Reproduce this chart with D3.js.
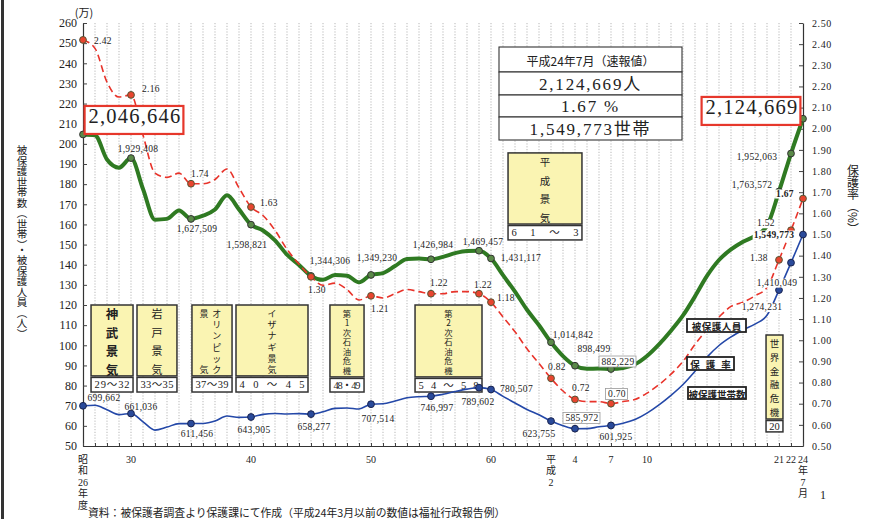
<!DOCTYPE html>
<html>
<head>
<meta charset="utf-8">
<script src="https://cdn.jsdelivr.net/npm/d3@7"></script>
<style>
  html, body { margin: 0; padding: 0; background: #fff; }
  svg { display: block; }
  text { font-family: "Liberation Serif", "DejaVu Serif", "Noto Sans CJK JP", serif; fill: #222; }
  .jp { font-family: "Noto Sans CJK JP", "Liberation Serif", serif; }
</style>
</head>
<body>
<svg id="chart" width="875" height="519"></svg>
<script>
// Periods: fiscal years Showa 26 (1951) .. Heisei 22 (2010), then July 2012 (preliminary)
const periods = [...d3.range(1951, 2011).map(String), "2012-07"];

// 被保護人員 (persons, monthly average)
const persons = [
  2046646, 2042550, 1922060, 1881687, 1929408, 1775971, 1623744, 1627571, 1669180, 1627509,
  1643445, 1674001, 1744639, 1674661, 1598821, 1570054, 1520733, 1449970, 1398725, 1344306,
  1325218, 1349052, 1345549, 1312339, 1349230, 1358316, 1393128, 1428261, 1430488, 1426984,
  1439226, 1457383, 1468245, 1469457, 1431117, 1348163, 1266126, 1176258, 1099520, 1014842,
  946374, 898499, 883112, 884912, 882229, 887450, 905589, 946994, 1004472, 1072241,
  1148088, 1242723, 1344327, 1423388, 1475838, 1513892, 1543321, 1592620, 1763572, 1952063,
  2124669
];

// 被保護世帯数 (households, monthly average)
const households = [
  699662, 702450, 680000, 656000, 661036, 620000, 579037, 594000, 611000, 611456,
  612000, 624000, 649000, 641869, 643905, 657193, 661647, 659096, 660509, 658277,
  669662, 687000, 689000, 684000, 707514, 709613, 723587, 739244, 744841, 746997,
  756726, 770388, 782265, 789602, 780507, 746355, 713825, 681018, 654915, 623755,
  600697, 585972, 586106, 595407, 601925, 613106, 631488, 663060, 704055, 751303,
  805169, 870931, 941270, 998887, 1041508, 1075820, 1105275, 1148766, 1274231, 1410049,
  1549773
];

// 保護率 (%)
const rates = [
  2.42, 2.38, 2.22, 2.15, 2.16, 1.97, 1.79, 1.77, 1.79, 1.74,
  1.74, 1.76, 1.81, 1.72, 1.63, 1.59, 1.52, 1.43, 1.36, 1.30,
  1.26, 1.27, 1.24, 1.19, 1.21, 1.20, 1.22, 1.24, 1.23, 1.22,
  1.22, 1.23, 1.23, 1.22, 1.18, 1.11, 1.04, 0.96, 0.89, 0.82,
  0.76, 0.72, 0.71, 0.71, 0.70, 0.71, 0.72, 0.75, 0.79, 0.84,
  0.90, 0.98, 1.05, 1.11, 1.16, 1.18, 1.21, 1.25, 1.38, 1.52,
  1.67
];

// x-axis labels (period index -> stacked label lines)
const xTickLabels = [
  { i: 0, lines: ["昭", "和", "26", "年", "度"] },
  { i: 4, lines: ["30"] }, { i: 14, lines: ["40"] }, { i: 24, lines: ["50"] }, { i: 34, lines: ["60"] },
  { i: 39, lines: ["平", "成", "2"] }, { i: 41, lines: ["4"] }, { i: 44, lines: ["7"] }, { i: 47, lines: ["10"] },
  { i: 58, lines: ["21"] }, { i: 59, lines: ["22"] }, { i: 60, lines: ["24", "年", "7", "月"] }
];
const leftTicks = d3.range(50, 261, 10);
const rightTicks = d3.range(0, 21).map(k => 0.5 + k * 0.1);

// Summary of the latest month
const summaryRows = ["平成24年7月（速報値）", "2,124,669人", "1.67 %", "1,549,773世帯"];

// Business-cycle periods (x in period index, y in 万 units on the left axis)
const booms = [
  { cols: ["神武景気"], x0: 0.67, x1: 4.17, top: 120, bottom: 84.8, sub: 76.8, range: "29～32", fs: 12.5, bold: true },
  { cols: ["岩戸景気"], x0: 4.5, x1: 7.83, top: 120, bottom: 84.8, sub: 76.8, range: "33～35", fs: 11 },
  { cols: ["オリンピック", "景気"], colPos: [0.62, 0.3], x0: 9.08, x1: 12.42, top: 120, bottom: 84.8, sub: 76.8, range: "37～39", fs: 9 },
  { cols: ["イザナギ景気"], x0: 12.75, x1: 18.75, top: 120, bottom: 84.8, sub: 76.8, range: "40～45", fs: 9 },
  { cols: ["第1次石油危機"], x0: 20.58, x1: 23.42, top: 120, bottom: 84.3, sub: 76.8, range: "48・49", fs: 8.3 },
  { cols: ["第2次石油危機"], x0: 27.67, x1: 33.25, top: 120, bottom: 84.3, sub: 76.8, range: "54～58", fs: 8.3 },
  { cols: ["平成景気"], x0: 35.42, x1: 41.58, top: 195.5, bottom: 160.2, sub: 152.3, range: "61～3", fs: 10.5 },
  { cols: ["世界金融危機"], x0: 56.92, x1: 58.33, top: 105.1, bottom: 63.4, sub: 57, range: "20", fs: 9.5 }
];

// Value callouts: period index and text offset from the point
const personNotes = [
  { i: 0, dx: 52, dy: -11.5, style: "big" },
  { i: 4, dx: 7, dy: -6.5 }, { i: 9, dx: 6, dy: 13.5 }, { i: 14, dx: -4, dy: 23 },
  { i: 19, dx: 19, dy: -11.5 }, { i: 24, dx: 6, dy: -13.5 }, { i: 29, dx: 2, dy: -11 },
  { i: 33, dx: 4, dy: -5.5 }, { i: 34, dx: 30, dy: 3 }, { i: 39, dx: 22, dy: -4 },
  { i: 41, dx: 19, dy: -14 }, { i: 44, dx: 7, dy: -4.5, style: "boxed" },
  { i: 58, dx: -27, dy: -3, halo: true }, { i: 59, dx: -34, dy: 6, halo: true },
  { i: 60, dx: -51, dy: -4.8, style: "big" }
];
const rateNotes = [
  { i: 0, dx: 11, dy: 4.5, anchor: "start" }, { i: 4, dx: 11, dy: -2.5, anchor: "start" },
  { i: 9, dx: 9, dy: -7 }, { i: 14, dx: 9, dy: -1.5, anchor: "start" },
  { i: 19, dx: 6, dy: 16 }, { i: 24, dx: 9, dy: 16 }, { i: 29, dx: 8, dy: -8 },
  { i: 33, dx: 4, dy: -6 }, { i: 34, dx: 6, dy: -1.5, anchor: "start" },
  { i: 39, dx: 6, dy: -8 }, { i: 41, dx: 6, dy: -8 }, { i: 44, dx: 6, dy: -6.7, style: "boxed" },
  { i: 58, dx: -20, dy: 1.5, halo: true }, { i: 59, dx: -25, dy: -4, halo: true },
  { i: 60, dx: -18, dy: -2, bold: true, halo: true }
];
const householdNotes = [
  { i: 0, dx: 21, dy: -4.3 }, { i: 4, dx: 10, dy: -4 }, { i: 9, dx: 6, dy: 13 },
  { i: 14, dx: 3, dy: 15.5 }, { i: 19, dx: 3, dy: 15.4 }, { i: 24, dx: 7, dy: 17.3 },
  { i: 29, dx: 6, dy: 15.2 }, { i: 33, dx: -1, dy: 17.8 }, { i: 34, dx: 9, dy: 3, anchor: "start" },
  { i: 39, dx: -12, dy: 16.4 }, { i: 41, dx: 7, dy: -7.7, style: "boxed" }, { i: 44, dx: 5, dy: 15 },
  { i: 58, dx: -17, dy: 20, halo: true }, { i: 59, dx: -14, dy: 23, halo: true },
  { i: 60, dx: -29, dy: 3, bold: true, halo: true }
];
const markerIdx = [0, 4, 9, 14, 19, 24, 29, 33, 34, 39, 41, 44, 58, 59, 60];

const legendItems = [
  { text: "被保護人員", x: 687, y: 319, w: 59, h: 13, ls: 0.5 },
  { text: "保護率", x: 687, y: 357, w: 47, h: 13, ls: 6 },
  { text: "被保護世帯数", x: 688, y: 387, w: 58, h: 12, ls: 0 }
];

const COLORS = { persons: "#2f7a22", rate: "#e8332a", households: "#2448a8" };

// ---------------------------------------------------------------
const svg = d3.select("#chart");
const M = { left: 83, right: 803, top: 23, bottom: 446 };
const x = d3.scaleLinear().domain([0, periods.length - 1]).range([M.left, M.right]);
const yL = d3.scaleLinear().domain([50, 260]).range([M.bottom, M.top]);
const yR = d3.scaleLinear().domain([0.5, 2.5]).range([M.bottom, M.top]);
const man = v => v / 10000;
const personsMan = persons.map(man);
const householdsMan = households.map(man);

svg.append("rect").attr("width", 875).attr("height", 519).attr("fill", "#fff");
// page frame on the left
svg.append("rect").attr("x", 1).attr("y", 0).attr("width", 3).attr("height", 519).attr("fill", "#333");

// vertical year grid
svg.append("g").selectAll("line").data(d3.range(1, periods.length - 1)).join("line")
  .attr("x1", d => x(d)).attr("x2", d => x(d))
  .attr("y1", M.top).attr("y2", M.bottom)
  .attr("stroke", "#9a9a9a").attr("stroke-width", 0.7).attr("stroke-dasharray", "1.2,1.6");

// axes
const gL = svg.append("g").attr("transform", `translate(${M.left},0)`)
  .call(d3.axisLeft(yL).tickValues(leftTicks).tickSize(-4).tickSizeOuter(0).tickPadding(6));
gL.selectAll("text").attr("font-size", 12).attr("font-family", "Liberation Serif, serif").attr("fill", "#222");
const gR = svg.append("g").attr("transform", `translate(${M.right},0)`)
  .call(d3.axisRight(yR).tickValues(rightTicks).tickFormat(d3.format(".2f")).tickSize(-4).tickSizeOuter(0).tickPadding(9));
gR.selectAll("text").attr("font-size", 10).attr("font-family", "Liberation Serif, serif").attr("fill", "#333").attr("letter-spacing", 0.6);
const gB = svg.append("g").attr("transform", `translate(0,${M.bottom})`)
  .call(d3.axisBottom(x).tickValues(d3.range(periods.length)).tickFormat("").tickSize(-3).tickSizeOuter(0));
[gL, gR, gB].forEach(g => {
  g.select(".domain").attr("stroke", "#333").attr("stroke-width", 1.2);
  g.selectAll(".tick line").attr("stroke", "#444");
});

// x tick labels: one text per tick, stacked lines as tspans
xTickLabels.forEach(t => {
  const tx = svg.append("text").attr("class", "jp").attr("x", x(t.i)).attr("y", 462.5)
    .attr("text-anchor", "middle").attr("font-size", 10).attr("fill", "#333");
  t.lines.forEach((ln, k) => {
    tx.append("tspan").attr("x", x(t.i)).attr("dy", k === 0 ? 0 : 11.5)
      .style("font-family", /[0-9]/.test(ln) ? "Liberation Serif, serif" : null).text(ln);
  });
});

svg.append("text").attr("x", 84).attr("y", 17).attr("text-anchor", "middle")
  .attr("font-size", 11).attr("class", "jp").text("(万)");

// axis titles (vertical writing)
svg.append("text").attr("class", "jp").attr("x", 22).attr("y", 145)
  .style("writing-mode", "vertical-rl").attr("font-size", 10.5).attr("fill", "#333")
  .text("被保護世帯数（世帯）・被保護人員（人）");
svg.append("text").attr("class", "jp").attr("x", 853).attr("y", 164)
  .style("writing-mode", "vertical-rl").attr("font-size", 12).attr("fill", "#333")
  .text("保護率（%）");

// business cycle boxes
booms.forEach(b => {
  const bx = x(b.x0), bw = x(b.x1) - x(b.x0);
  const ty = yL(b.top), by = yL(b.bottom), sy = yL(b.sub);
  svg.append("rect").attr("x", bx).attr("y", ty).attr("width", bw).attr("height", by - ty)
    .attr("fill", "#faf4b2").attr("stroke", "#333").attr("stroke-width", 1.5);
  svg.append("rect").attr("x", bx).attr("y", by + 1.5).attr("width", bw).attr("height", sy - by - 1.5)
    .attr("fill", "#fff").attr("stroke", "#333").attr("stroke-width", 1.5);
  b.cols.forEach((col, ci) => {
    const chars = Array.from(col);
    const cx = bx + bw * (b.colPos ? b.colPos[ci] : 0.5);
    const y0 = ty + 8, y1 = by - 7;
    const step = chars.length > 1 ? (y1 - y0) / (chars.length - 1) : 0;
    // one text per column, characters stacked top to bottom
    const ct = svg.append("text").attr("class", "jp").attr("x", cx).attr("y", y0)
      .attr("dominant-baseline", "central").attr("text-anchor", "middle")
      .attr("font-size", b.fs).attr("font-weight", b.bold ? 700 : 400).attr("fill", "#333");
    chars.forEach((ch, k) => {
      ct.append("tspan").attr("x", cx).attr("dy", k === 0 ? 0 : step).text(ch);
    });
  });
  const rt = svg.append("text").attr("x", bx + bw / 2).attr("y", (by + sy) / 2 + 1)
    .attr("dominant-baseline", "central").attr("text-anchor", "middle")
    .attr("font-size", 10.5).attr("fill", "#333").text(b.range);
  if (b.range.length >= 4) rt.attr("textLength", bw - 7).attr("lengthAdjust", "spacing");
});

// series lines
const mk = (vals, ys) => d3.line().x((d, i) => x(i)).y(d => ys(d)).curve(d3.curveMonotoneX)(vals);
svg.append("path").attr("d", mk(personsMan, yL)).attr("fill", "none")
  .attr("stroke", COLORS.persons).attr("stroke-width", 4).attr("stroke-linejoin", "round");
svg.append("path").attr("d", mk(householdsMan, yL)).attr("fill", "none")
  .attr("stroke", COLORS.households).attr("stroke-width", 1.6);
svg.append("path").attr("d", mk(rates, yR)).attr("fill", "none")
  .attr("stroke", COLORS.rate).attr("stroke-width", 1.6).attr("stroke-dasharray", "7,4");

// markers
const markers = (vals, ys, fill, stroke) => svg.append("g").selectAll("circle").data(markerIdx).join("circle")
  .attr("cx", i => x(i)).attr("cy", i => ys(vals[i])).attr("r", 3.4)
  .attr("fill", fill).attr("stroke", stroke).attr("stroke-width", 1);
markers(personsMan, yL, "#5a8a48", "#333");
markers(householdsMan, yL, "#2a4a9a", "#1a2450");
markers(rates, yR, "#e8452f", "#553");

// value callouts: text from the raw values, placed from the scaled point
function notes(list, raw, plotted, ys, fmt) {
  list.forEach(n => {
    const px = x(n.i), py = ys(plotted[n.i]);
    const g = svg.append("g");
    const t = g.append("text").attr("x", px + n.dx).attr("y", py + n.dy)
      .attr("text-anchor", n.anchor || "middle").attr("fill", "#333")
      .attr("font-size", 9.5).attr("letter-spacing", 0.3).text(fmt(raw[n.i]));
    if (n.bold) t.attr("font-weight", 700).attr("fill", "#111");
    if (n.style === "big") t.attr("font-size", 20.5).attr("letter-spacing", 1.2).attr("fill", "#222");
    const bb = t.node().getBBox();
    if (n.style === "big") {
      g.insert("rect", "text").attr("x", bb.x - 4).attr("y", bb.y + 1).attr("width", bb.width + 6).attr("height", bb.height + 6)
        .attr("fill", "#fff").attr("stroke", "#e6372b").attr("stroke-width", 2.2);
    } else if (n.style === "boxed") {
      g.insert("rect", "text").attr("x", bb.x - 2.5).attr("y", bb.y - 0.5).attr("width", bb.width + 4).attr("height", bb.height + 1)
        .attr("fill", "#fff").attr("stroke", "#999").attr("stroke-width", 0.8);
    } else if (n.halo) {
      g.insert("rect", "text").attr("x", bb.x - 1).attr("y", bb.y + 1).attr("width", bb.width + 2).attr("height", bb.height - 1)
        .attr("fill", "#fff");
    }
  });
}
notes(personNotes, persons, personsMan, yL, d3.format(","));
notes(householdNotes, households, householdsMan, yL, d3.format(","));
notes(rateNotes, rates, rates, yR, d3.format(".2f"));

// series legend
legendItems.forEach(l => {
  svg.append("rect").attr("x", l.x).attr("y", l.y).attr("width", l.w).attr("height", l.h)
    .attr("fill", "#fff").attr("stroke", "#222").attr("stroke-width", 1.8);
  svg.append("text").attr("class", "jp").attr("x", l.x + l.w / 2 + l.ls / 2).attr("y", l.y + l.h / 2 + 0.5)
    .attr("dominant-baseline", "central").attr("text-anchor", "middle")
    .attr("font-size", 9.5).attr("font-weight", 700).attr("letter-spacing", l.ls).attr("fill", "#111").text(l.text);
});

// latest-month summary table
const tbX = 499, tbW = 183, rowEdges = [47, 72, 95, 117, 140];
summaryRows.forEach((txt, r) => {
  svg.append("rect").attr("x", tbX).attr("y", rowEdges[r]).attr("width", tbW)
    .attr("height", rowEdges[r + 1] - rowEdges[r]).attr("fill", "#fff").attr("stroke", "#333").attr("stroke-width", 1.1);
  svg.append("text").attr("class", r === 0 ? "jp" : "")
    .attr("x", tbX + tbW / 2).attr("y", (rowEdges[r] + rowEdges[r + 1]) / 2 + 0.5)
    .attr("dominant-baseline", "central").attr("text-anchor", "middle")
    .attr("font-size", r === 0 ? 12 : 17).attr("letter-spacing", r === 0 ? 0 : 1.8)
    .attr("fill", "#222").text(txt);
});

// source note and page number
svg.append("text").attr("class", "jp").attr("x", 88).attr("y", 517).attr("font-size", 10.8).attr("fill", "#333")
  .text("資料：被保護者調査より保護課にて作成（平成24年3月以前の数値は福祉行政報告例）");
svg.append("text").attr("x", 823).attr("y", 499).attr("text-anchor", "middle").attr("font-size", 12).attr("fill", "#999").text("1");
</script>
</body>
</html>
